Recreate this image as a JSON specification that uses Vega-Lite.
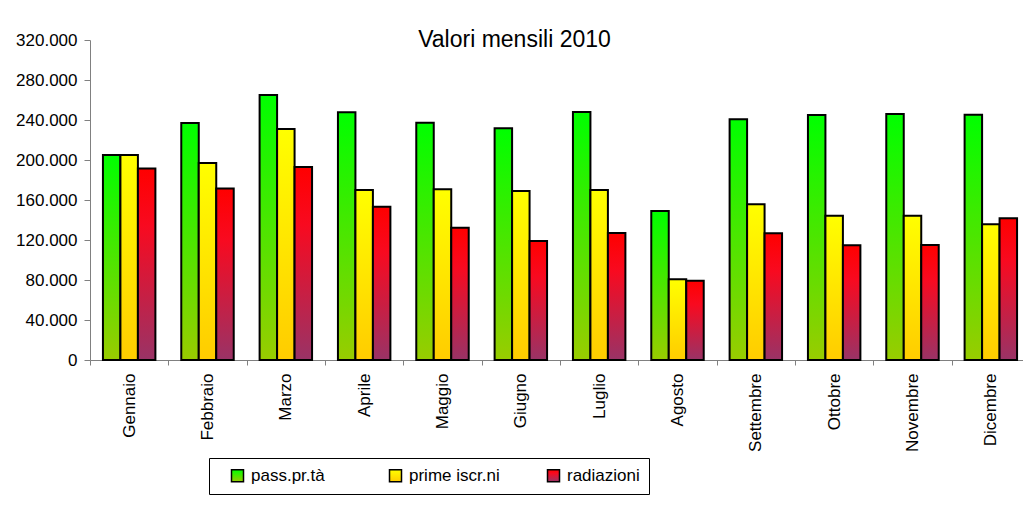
{
  "$schema": "https://vega.github.io/schema/vega-lite/v6.json",
  "autosize": {"type": "none"},
  "padding": {"left": 90, "top": 40, "right": 0, "bottom": 146},
  "width": 933,
  "height": 320,
  "background": "white",
  "title": {
    "text": "Valori mensili 2010",
    "font": "Liberation Sans",
    "fontSize": 23,
    "fontWeight": "normal",
    "color": "black",
    "anchor": "middle",
    "frame": "group",
    "offset": -21,
    "dx": -42
  },
  "data": {
    "values": [
      {"mese": "Gennaio", "serie": "pass.pr.tà", "valore": 205000},
      {"mese": "Gennaio", "serie": "prime iscr.ni", "valore": 205000},
      {"mese": "Gennaio", "serie": "radiazioni", "valore": 191500},
      {"mese": "Febbraio", "serie": "pass.pr.tà", "valore": 237000},
      {"mese": "Febbraio", "serie": "prime iscr.ni", "valore": 197000},
      {"mese": "Febbraio", "serie": "radiazioni", "valore": 171500},
      {"mese": "Marzo", "serie": "pass.pr.tà", "valore": 265000},
      {"mese": "Marzo", "serie": "prime iscr.ni", "valore": 231000},
      {"mese": "Marzo", "serie": "radiazioni", "valore": 193000},
      {"mese": "Aprile", "serie": "pass.pr.tà", "valore": 247700},
      {"mese": "Aprile", "serie": "prime iscr.ni", "valore": 170000},
      {"mese": "Aprile", "serie": "radiazioni", "valore": 153300},
      {"mese": "Maggio", "serie": "pass.pr.tà", "valore": 237300},
      {"mese": "Maggio", "serie": "prime iscr.ni", "valore": 170700},
      {"mese": "Maggio", "serie": "radiazioni", "valore": 132300},
      {"mese": "Giugno", "serie": "pass.pr.tà", "valore": 231700},
      {"mese": "Giugno", "serie": "prime iscr.ni", "valore": 169000},
      {"mese": "Giugno", "serie": "radiazioni", "valore": 119000},
      {"mese": "Luglio", "serie": "pass.pr.tà", "valore": 248000},
      {"mese": "Luglio", "serie": "prime iscr.ni", "valore": 170000},
      {"mese": "Luglio", "serie": "radiazioni", "valore": 127000},
      {"mese": "Agosto", "serie": "pass.pr.tà", "valore": 149000},
      {"mese": "Agosto", "serie": "prime iscr.ni", "valore": 80700},
      {"mese": "Agosto", "serie": "radiazioni", "valore": 79300},
      {"mese": "Settembre", "serie": "pass.pr.tà", "valore": 240700},
      {"mese": "Settembre", "serie": "prime iscr.ni", "valore": 155700},
      {"mese": "Settembre", "serie": "radiazioni", "valore": 126700},
      {"mese": "Ottobre", "serie": "pass.pr.tà", "valore": 245000},
      {"mese": "Ottobre", "serie": "prime iscr.ni", "valore": 144300},
      {"mese": "Ottobre", "serie": "radiazioni", "valore": 114700},
      {"mese": "Novembre", "serie": "pass.pr.tà", "valore": 246000},
      {"mese": "Novembre", "serie": "prime iscr.ni", "valore": 144300},
      {"mese": "Novembre", "serie": "radiazioni", "valore": 115000},
      {"mese": "Dicembre", "serie": "pass.pr.tà", "valore": 245300},
      {"mese": "Dicembre", "serie": "prime iscr.ni", "valore": 135700},
      {"mese": "Dicembre", "serie": "radiazioni", "valore": 141700}
    ]
  },
  "mark": {
    "type": "bar",
    "strokeWidth": 2,
    "fill": {"expr": "(datum.serie || datum.value) === 'pass.pr.tà' ? {gradient: 'linear', x1: 0, y1: 0, x2: 0, y2: 1, stops: [{offset: 0, color: '#00FF00'}, {offset: 1, color: '#99CC00'}]} : (datum.serie || datum.value) === 'prime iscr.ni' ? {gradient: 'linear', x1: 0, y1: 0, x2: 0, y2: 1, stops: [{offset: 0, color: '#FFFF00'}, {offset: 1, color: '#FFCC00'}]} : {gradient: 'linear', x1: 0, y1: 0, x2: 0, y2: 1, stops: [{offset: 0, color: '#FF0000'}, {offset: 0.3, color: '#F80A20'}, {offset: 1, color: '#993366'}]}"}
  },
  "encoding": {
    "x": {
      "field": "mese",
      "type": "nominal",
      "sort": ["Gennaio","Febbraio","Marzo","Aprile","Maggio","Giugno","Luglio","Agosto","Settembre","Ottobre","Novembre","Dicembre"],
      "scale": {"paddingInner": 0, "paddingOuter": 0, "range": [0, 940]},
      "axis": {
        "title": null,
        "labelAngle": -90,
        "labelFont": "Liberation Sans",
        "labelFontSize": 17,
        "labelColor": "black",
        "labelPadding": 8,
        "tickBand": "extent",
        "tickSize": 5,
        "tickColor": "#808080",
        "domainColor": "#808080",
        "grid": false
      }
    },
    "xOffset": {
      "field": "serie",
      "type": "nominal",
      "sort": ["pass.pr.tà", "prime iscr.ni", "radiazioni"],
      "scale": {"paddingInner": 0, "paddingOuter": 0.74}
    },
    "y": {
      "field": "valore",
      "type": "quantitative",
      "scale": {"domain": [0, 320000], "nice": false},
      "axis": {
        "title": null,
        "values": [0, 40000, 80000, 120000, 160000, 200000, 240000, 280000, 320000],
        "labelExpr": "replace(format(datum.value, ','), ',', '.')",
        "labelFont": "Liberation Sans",
        "labelFontSize": 17,
        "labelColor": "black",
        "labelPadding": 7,
        "tickSize": 6,
        "tickColor": "#808080",
        "domainColor": "#808080",
        "grid": false
      }
    },
    "stroke": {
      "field": "serie",
      "type": "nominal",
      "scale": {
        "domain": ["pass.pr.tà", "prime iscr.ni", "radiazioni"],
        "range": ["black", "black", "black"]
      },
      "legend": {
        "title": "\u00a0",
        "titleOrient": "left",
        "titleFontSize": 17,
        "titlePadding": 11,
        "orient": "none",
        "legendX": 119,
        "legendY": 418,
        "direction": "horizontal",
        "columns": 3,
        "gridAlign": "all",
        "symbolType": "square",
        "symbolSize": 144,
        "symbolStrokeWidth": 1.5,
        "symbolOpacity": 1,
        "labelFont": "Liberation Sans",
        "labelFontSize": 17,
        "labelColor": "black",
        "labelOffset": 5,
        "columnPadding": 44,
        "padding": 9,
        "strokeColor": "black",
        "fillColor": "white"
      }
    }
  },
  "config": {
    "view": {"stroke": null}
  }
}
